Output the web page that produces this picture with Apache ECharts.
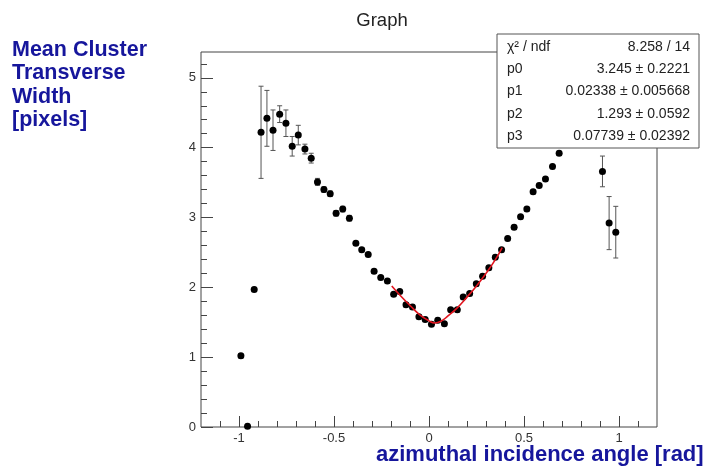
<!DOCTYPE html>
<html>
<head>
<meta charset="utf-8">
<script src="https://cdn.jsdelivr.net/npm/echarts@6/dist/echarts.min.js"></script>
<style>
  html, body { margin: 0; padding: 0; background: #fff; }
  #chart { width: 707px; height: 473px; }
</style>
</head>
<body>
<div id="chart"></div>
<script>
// measured points (angle in rad, width in pixels)
const angles = [-0.99, -0.955, -0.92, -0.884, -0.853, -0.821, -0.786, -0.753, -0.72, -0.688,
  -0.653, -0.62, -0.587, -0.553, -0.52, -0.489, -0.454, -0.419, -0.385, -0.354,
  -0.32, -0.289, -0.254, -0.219, -0.186, -0.154, -0.121, -0.087, -0.053, -0.02,
  0.013, 0.046, 0.081, 0.114, 0.149, 0.18, 0.214, 0.249, 0.282, 0.315,
  0.349, 0.382, 0.414, 0.448, 0.482, 0.515, 0.548, 0.58, 0.613, 0.65,
  0.685, 0.913, 0.948, 0.983];
const widths = [1.02, 0.01, 1.97, 4.22, 4.42, 4.25, 4.48, 4.35, 4.02, 4.18,
  3.98, 3.85, 3.51, 3.40, 3.34, 3.06, 3.12, 2.99, 2.63, 2.54,
  2.47, 2.23, 2.14, 2.09, 1.90, 1.94, 1.75, 1.72, 1.58, 1.54,
  1.47, 1.53, 1.48, 1.68, 1.68, 1.86, 1.91, 2.05, 2.16, 2.28,
  2.43, 2.54, 2.70, 2.86, 3.01, 3.12, 3.37, 3.46, 3.55, 3.73,
  3.92, 3.66, 2.92, 2.79];
const errors = [0.03, 0.03, 0.03, 0.66, 0.40, 0.29, 0.12, 0.19, 0.14, 0.14,
  0.07, 0.07, 0.05, 0.04, 0.04, 0.04, 0.04, 0.04, 0.03, 0.03,
  0.03, 0.03, 0.03, 0.03, 0.03, 0.03, 0.03, 0.03, 0.03, 0.03,
  0.03, 0.03, 0.03, 0.03, 0.03, 0.03, 0.03, 0.03, 0.03, 0.03,
  0.03, 0.03, 0.03, 0.03, 0.03, 0.03, 0.03, 0.03, 0.03, 0.03,
  0.03, 0.22, 0.38, 0.37];

// fit curve
const fitX = [-0.196, -0.15, -0.1, -0.05, 0.0, 0.03, 0.06, 0.1, 0.15, 0.2, 0.25, 0.3, 0.35, 0.385];
const fitY = [2.02, 1.88, 1.74, 1.61, 1.52, 1.49, 1.51, 1.59, 1.71, 1.86, 2.02, 2.20, 2.40, 2.57];

// ticks
const xMajor = [-1, -0.5, 0, 0.5, 1];
const xMinor = [-1.1, -0.9, -0.8, -0.7, -0.6, -0.4, -0.3, -0.2, -0.1, 0.1, 0.2, 0.3, 0.4, 0.6, 0.7, 0.8, 0.9, 1.1];
const yMajor = [0, 1, 2, 3, 4, 5];
const yMinor = [0.2, 0.4, 0.6, 0.8, 1.2, 1.4, 1.6, 1.8, 2.2, 2.4, 2.6, 2.8, 3.2, 3.4, 3.6, 3.8, 4.2, 4.4, 4.6, 4.8, 5.2];

// fit stats
const statNames = ["χ² / ndf", "p0", "p1", "p2", "p3"];
const statValues = ["8.258 / 14", "3.245 ± 0.2221", "0.02338 ± 0.005668", "1.293 ± 0.0592", "0.07739 ± 0.02392"];

const chart = echarts.init(document.getElementById("chart"));

const tickFont = { fontFamily: "Liberation Sans, Arial, sans-serif", fontSize: 13, color: "#333" };
const blue = "#16169c";

const points = angles.map((a, i) => [a, widths[i]]);
const bars = angles.map((a, i) => [a, widths[i], errors[i]]);
const fit = fitX.map((x, i) => [x, fitY[i]]);

const statGraphics = [];
statNames.forEach((n, i) => {
  statGraphics.push({
    type: "text", z: 101, left: 507, top: 40 + i * 22.3,
    style: { text: n, font: "14px Liberation Sans, Arial", fill: "#222" }
  });
  statGraphics.push({
    type: "text", z: 101, x: 690, y: 40 + i * 22.3,
    style: { text: statValues[i], font: "14px Liberation Sans, Arial", fill: "#222", textAlign: "right" }
  });
});

chart.setOption({
  animation: false,
  grid: {
    left: 201, right: 50, top: 52, bottom: 46,
    show: true, borderColor: "#444", borderWidth: 1, backgroundColor: "transparent"
  },
  xAxis: [
    {
      type: "value", min: -1.2, max: 1.2, position: "bottom",
      axisLine: { show: false, onZero: false },
      splitLine: { show: false },
      axisTick: { show: true, inside: true, length: 11, customValues: xMajor, lineStyle: { color: "#444" } },
      axisLabel: { customValues: xMajor, margin: 5, ...tickFont }
    },
    {
      type: "value", min: -1.2, max: 1.2, position: "bottom",
      axisLine: { show: false, onZero: false },
      splitLine: { show: false },
      axisLabel: { show: false },
      axisTick: { show: true, inside: true, length: 6, customValues: xMinor, lineStyle: { color: "#444" } }
    }
  ],
  yAxis: [
    {
      type: "value", min: 0, max: 5.37, position: "left",
      axisLine: { show: false, onZero: false },
      splitLine: { show: false },
      axisTick: { show: true, inside: true, length: 12, customValues: yMajor, lineStyle: { color: "#444" } },
      axisLabel: { customValues: yMajor, margin: 5, ...tickFont }
    },
    {
      type: "value", min: 0, max: 5.37, position: "left",
      axisLine: { show: false, onZero: false },
      splitLine: { show: false },
      axisLabel: { show: false },
      axisTick: { show: true, inside: true, length: 6, customValues: yMinor, lineStyle: { color: "#444" } }
    }
  ],
  series: [
    {
      type: "custom",
      data: bars,
      z: 2,
      renderItem: function (params, api) {
        const x = api.value(0), y = api.value(1), e = api.value(2);
        const hi = api.coord([x, y + e]);
        const lo = api.coord([x, y - e]);
        const st = { stroke: "#555", lineWidth: 1 };
        return {
          type: "group",
          children: [
            { type: "line", shape: { x1: hi[0], y1: hi[1], x2: lo[0], y2: lo[1] }, style: st },
            { type: "line", shape: { x1: hi[0] - 2.5, y1: hi[1], x2: hi[0] + 2.5, y2: hi[1] }, style: st },
            { type: "line", shape: { x1: lo[0] - 2.5, y1: lo[1], x2: lo[0] + 2.5, y2: lo[1] }, style: st }
          ]
        };
      }
    },
    {
      type: "scatter",
      data: points,
      symbol: "circle",
      symbolSize: 7,
      clip: false,
      itemStyle: { color: "#000", opacity: 1 },
      z: 3
    },
    {
      type: "line",
      data: fit,
      smooth: true,
      showSymbol: false,
      lineStyle: { color: "#e0141e", width: 1.6 },
      z: 4
    }
  ],
  graphic: [
    {
      type: "text", x: 382, y: 11,
      style: { text: "Graph", font: "18.5px Liberation Sans, Arial", fill: "#222", textAlign: "center" }
    },
    {
      type: "text", left: 12, top: 38,
      style: {
        text: "Mean Cluster\nTransverse\nWidth\n[pixels]",
        font: "bold 21.5px Liberation Sans, Arial", fill: blue, lineHeight: 23.5
      }
    },
    {
      type: "text", left: 376, top: 444,
      style: { text: "azimuthal incidence angle [rad]", font: "bold 22px Liberation Sans, Arial", fill: blue }
    },
    {
      type: "rect", z: 100,
      shape: { x: 497, y: 34, width: 202, height: 114 },
      style: { fill: "#fff", stroke: "#555", lineWidth: 1 }
    },
    ...statGraphics
  ]
});
</script>
</body>
</html>
